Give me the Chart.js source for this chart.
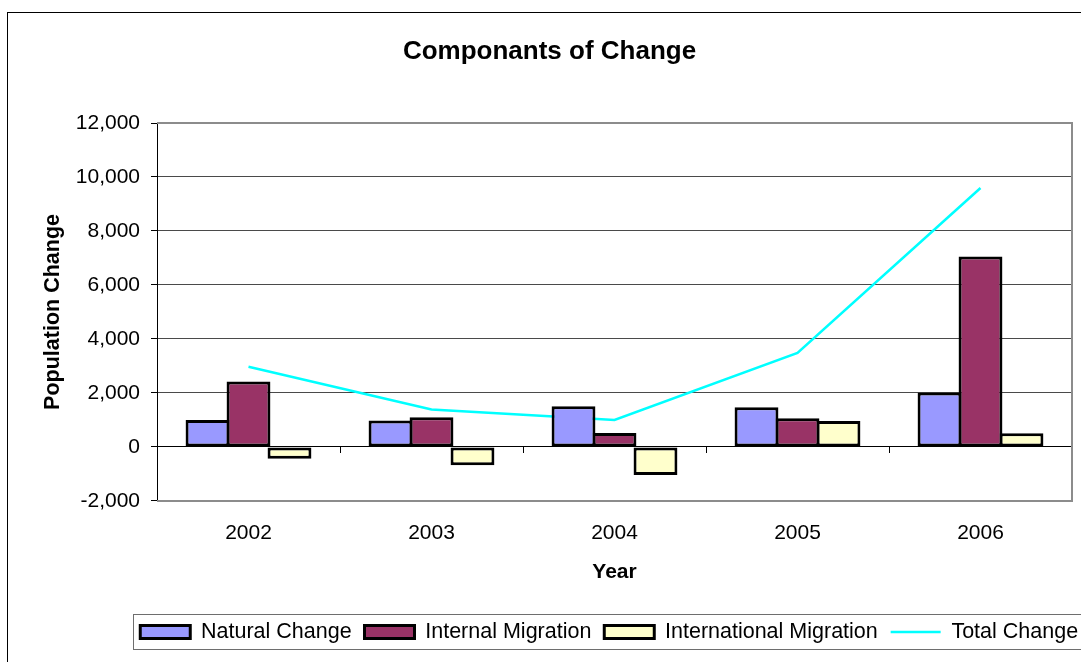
<!DOCTYPE html>
<html>
<head>
<meta charset="utf-8">
<title>Componants of Change</title>
<script src="https://cdn.jsdelivr.net/npm/chart.js@4/dist/chart.umd.min.js"></script>
<style>
  html, body { margin: 0; padding: 0; background: #fff; overflow: hidden; }
  #wrap { width: 1081px; height: 662px; overflow: hidden; }
  canvas { display: block; }
</style>
</head>
<body>
<div id="wrap"><canvas id="changeChart" width="1100" height="680"></canvas></div>
<script>
// values
const years = ['2002', '2003', '2004', '2005', '2006'];
const naturalChange = [1000, 980, 1510, 1470, 2020];
const internalMigration = [2420, 1100, 520, 1060, 7050];
const internationalMigration = [-440, -680, -1040, 960, 510];
const totalChange = [2970, 1390, 1000, 3480, 9590];
const yTicks = [-2000, 0, 2000, 4000, 6000, 8000, 10000, 12000];

Chart.defaults.font.family = "'Liberation Sans', Arial, sans-serif";
Chart.defaults.color = '#000';

// outer frame and white background
const framePlugin = {
  id: 'frame',
  beforeDraw(chart) {
    const c = chart.ctx;
    c.save();
    c.fillStyle = '#fff';
    c.fillRect(0, 0, chart.width, chart.height);
    c.strokeStyle = '#000';
    c.lineWidth = 1;
    c.strokeRect(7.5, 12.5, chart.width - 2, chart.height - 2);
    c.restore();
  }
};

// grey border on top, right and bottom of the plot area
const plotBorder = {
  id: 'plotBorder',
  beforeDatasetsDraw(chart) {
    const a = chart.chartArea;
    const c = chart.ctx;
    c.save();
    c.strokeStyle = '#8c8c8c';
    c.lineWidth = 2;
    c.beginPath();
    c.moveTo(a.left, a.top);
    c.lineTo(a.right, a.top);
    c.lineTo(a.right, a.bottom);
    c.lineTo(a.left, a.bottom);
    c.stroke();
    c.restore();
  }
};

// box around the legend row
const legendBox = {
  id: 'legendBox',
  afterDraw(chart) {
    const lg = chart.legend;
    if (!lg || !lg.legendHitBoxes.length) return;
    const hb = lg.legendHitBoxes;
    const cy = hb[0].top + hb[0].height / 2;
    const left = hb[0].left - 7;
    const right = hb[hb.length - 1].left + hb[hb.length - 1].width + 10;
    const c = chart.ctx;
    c.save();
    c.strokeStyle = '#6e6e6e';
    c.lineWidth = 1;
    c.strokeRect(Math.round(left) + 0.5, Math.round(cy - 17.5) + 0.5, right - left, 35);
    c.restore();
  }
};

new Chart(document.getElementById('changeChart'), {
  data: {
    labels: years,
    datasets: [
      {
        type: 'bar', label: 'Natural Change', data: naturalChange,
        backgroundColor: '#9999FF', borderColor: '#000', borderWidth: 3,
        borderSkipped: false, xAxisID: 'x', yAxisID: 'y'
      },
      {
        type: 'bar', label: 'Internal Migration', data: internalMigration,
        backgroundColor: '#993366', borderColor: '#000', borderWidth: 3,
        borderSkipped: false, xAxisID: 'x', yAxisID: 'y'
      },
      {
        type: 'bar', label: 'International Migration', data: internationalMigration,
        backgroundColor: '#FFFFCC', borderColor: '#000', borderWidth: 3,
        borderSkipped: false, xAxisID: 'x', yAxisID: 'y'
      },
      {
        type: 'line', label: 'Total Change', data: totalChange,
        borderColor: '#00FFFF', backgroundColor: '#00FFFF', borderWidth: 2.5,
        pointRadius: 0, tension: 0, fill: false, xAxisID: 'x', yAxisID: 'y'
      }
    ]
  },
  options: {
    responsive: false,
    animation: false,
    devicePixelRatio: 1,
    layout: { padding: { left: 8, top: 13, right: 9, bottom: 27.35 } },
    datasets: {
      bar: { categoryPercentage: 0.672, barPercentage: 1.07 }
    },
    plugins: {
      title: {
        display: true,
        text: 'Componants of Change',
        font: { size: 26, weight: 'bold' },
        color: '#000',
        padding: { top: 23.4, bottom: 55.4 }
      },
      legend: {
        display: true,
        position: 'bottom',
        align: 'end',
        labels: {
          font: { size: 21.5 },
          color: '#000',
          usePointStyle: true,
          pointStyleWidth: 50,
          boxWidth: 50,
          boxHeight: 13,
          padding: 12.9,
          generateLabels(chart) {
            const items = Chart.defaults.plugins.legend.labels.generateLabels(chart);
            items.forEach(it => {
              it.pointStyle = chart.data.datasets[it.datasetIndex].type === 'line' ? 'line' : 'rect';
            });
            return items;
          }
        }
      },
      tooltip: { enabled: false }
    },
    scales: {
      x: {
        type: 'category',
        position: 'bottom',
        offset: true,
        grid: { display: false, drawTicks: false },
        border: { display: false },
        ticks: { font: { size: 21 }, padding: 19.4, maxRotation: 0, color: '#000' },
        title: {
          display: true, text: 'Year', color: '#000',
          font: { size: 21, weight: 'bold' },
          padding: { top: 0, bottom: 23.75 }
        },
        afterFit(scale) { scale.height = 107.35; }
      },
      x0: {
        type: 'category',
        axis: 'x',
        labels: years,
        position: { y: 0 },
        offset: true,
        grid: {
          display: true, offset: true, drawOnChartArea: false,
          drawTicks: true, tickLength: 6, color: '#000', tickColor: '#000'
        },
        border: { display: true, color: '#000', width: 1 },
        ticks: { display: false }
      },
      y: {
        type: 'linear',
        position: 'left',
        min: -2000,
        max: 12000,
        afterBuildTicks(scale) { scale.ticks = yTicks.map(v => ({ value: v })); },
        grid: {
          drawTicks: true,
          tickLength: 6,
          color: ctx => {
            const v = ctx.tick ? ctx.tick.value : null;
            if (v === 12000 || v === -2000) return 'rgba(0,0,0,0)';
            if (v === 0) return '#000';
            return '#4a4a4a';
          },
          tickColor: '#000'
        },
        border: { display: true, color: '#000', width: 1 },
        ticks: {
          font: { size: 21 }, padding: 11, color: '#000',
          callback: v => v.toLocaleString('en-US')
        },
        title: {
          display: true, text: 'Population Change', color: '#000',
          font: { size: 21.5, weight: 'bold' },
          padding: { top: 32, bottom: 0 }
        },
        afterFit(scale) { scale.width = 149; }
      },
      yR: {
        type: 'linear',
        axis: 'y',
        position: 'right',
        grid: { display: false, drawTicks: false },
        border: { display: false },
        ticks: { display: false },
        afterFit(scale) { scale.width = 19; }
      }
    }
  },
  plugins: [framePlugin, plotBorder, legendBox]
});
</script>
</body>
</html>
